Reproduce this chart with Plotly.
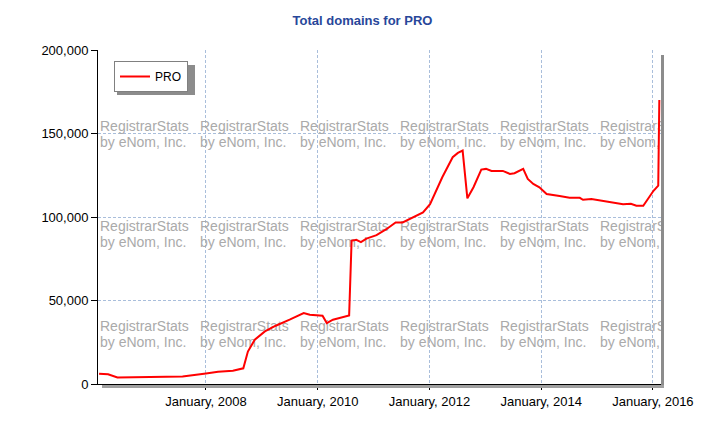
import plotly.graph_objects as go

# Total PRO domains
dates = [
    "2006-02-01", "2006-04-01", "2006-06-01", "2006-10-01", "2007-03-15", "2007-08-01",
    "2008-01-01", "2008-03-20", "2008-06-25", "2008-09-01", "2008-10-01", "2008-11-15",
    "2009-01-20", "2009-04-01", "2009-07-01", "2009-10-01", "2009-11-10", "2010-02-01",
    "2010-03-01", "2010-04-10", "2010-07-25", "2010-08-10", "2010-09-10", "2010-10-10",
    "2010-11-15", "2011-01-20", "2011-03-25", "2011-05-25", "2011-07-10", "2011-09-15",
    "2011-10-05", "2011-11-20", "2012-01-05", "2012-02-15", "2012-03-25", "2012-06-01",
    "2012-07-05", "2012-08-05", "2012-09-05", "2012-10-15", "2012-12-05", "2013-01-05",
    "2013-02-10", "2013-04-25", "2013-06-10", "2013-07-10", "2013-09-05", "2013-10-05",
    "2013-11-10", "2013-12-20", "2014-02-05", "2014-05-01", "2014-07-05", "2014-09-10",
    "2014-10-01", "2014-11-25", "2015-01-20", "2015-05-05", "2015-06-20", "2015-08-10",
    "2015-09-15", "2015-10-30", "2015-12-10", "2016-01-05", "2016-02-05", "2016-02-12",
]
domains = [
    6200, 5800, 3900, 4100, 4200, 4500,
    6300, 7300, 7900, 9400, 19400, 26500,
    31500, 34900, 38500, 42500, 41500, 40900,
    36500, 38500, 41100, 85700, 86300, 85000,
    87100, 89100, 92700, 96700, 96700, 99700,
    100200, 102700, 107700, 115700, 123800, 135800,
    138400, 139800, 111200, 117800, 128400, 128800,
    127600, 127600, 125800, 126200, 128800, 122800,
    119800, 117800, 113800, 112600, 111500, 111500,
    110300, 110800, 110000, 108800, 107700, 107900,
    106700, 106700, 112700, 115700, 118800, 170000,
]
tick_dates = ["2008-01-01", "2010-01-01", "2012-01-01", "2014-01-01", "2016-01-01"]
y_ticks = [0, 50000, 100000, 150000, 200000]

W, H = 725, 425
L, R, T, B = 98, 64, 50, 41
PW, PH = W - L - R, H - T - B

FONT = "Liberation Sans, Arial, sans-serif"
GRID = "#a9bedb"

fig = go.Figure()

# watermark, on a pixel-unit axis pair underneath the data
wm_x = []
wm_y = []
wm_t = []
for cx in [2, 102, 202, 302, 402, 502]:
    for top in [257, 157, 57]:
        wm_x += [cx, cx]
        wm_y += [top, top - 16]
        wm_t += ["RegistrarStats", "by eNom, Inc."]
fig.add_trace(go.Scatter(
    x=wm_x, y=wm_y, text=wm_t, mode="text", textposition="middle right",
    textfont=dict(family=FONT, size=14, color="#aaaaaa"),
    showlegend=False, hoverinfo="skip", cliponaxis=True,
    xaxis="x", yaxis="y",
))

fig.add_trace(go.Scatter(
    x=dates, y=domains, mode="lines", name="PRO",
    line=dict(color="#ff0000", width=2),
    xaxis="x2", yaxis="y2",
))

fig.update_layout(
    width=W, height=H,
    margin=dict(l=L, r=R, t=T, b=B),
    paper_bgcolor="white", plot_bgcolor="white",
    font=dict(family=FONT, size=13, color="black"),
    title=dict(
        text="<b>Total domains for PRO</b>",
        x=0.5, xref="container", xanchor="center",
        y=1 - 20 / H, yref="container", yanchor="middle",
        font=dict(family=FONT, size=13, color="#28479a"),
    ),
    xaxis=dict(range=[0, PW], visible=False, fixedrange=True),
    yaxis=dict(range=[0, PH], visible=False, fixedrange=True),
    xaxis2=dict(
        overlaying="x", anchor="y2", side="bottom",
        type="date", range=["2006-01-25", "2016-02-23"],
        tickvals=tick_dates, tickformat="%B, %Y",
        ticks="outside", ticklen=5, tickcolor="black",
        showline=True, linecolor="black", linewidth=1,
        showgrid=True, gridcolor=GRID, griddash="3px,2px", gridwidth=1,
        zeroline=False,
    ),
    yaxis2=dict(
        overlaying="y", anchor="x2", side="left",
        range=[0, 200000], tickvals=y_ticks, tickformat=",",
        ticks="outside", ticklen=6, tickcolor="black",
        showline=True, linecolor="black", linewidth=1,
        showgrid=True, gridcolor=GRID, griddash="3px,2px", gridwidth=1,
        zeroline=False,
    ),
    legend=dict(
        x=16 / PW, y=1 - 11 / PH, xanchor="left", yanchor="top",
        bgcolor="white", bordercolor="#808080", borderwidth=1,
        font=dict(family=FONT, size=12, color="black"),
    ),
    shapes=[
        # plot shadow
        dict(type="rect", xref="paper", yref="paper", layer="above",
             x0=1, x1=1 + 3 / PW, y0=-4 / PH, y1=1 - 5 / PH,
             fillcolor="#8c8c8c", line=dict(width=0)),
        dict(type="rect", xref="paper", yref="paper", layer="above",
             x0=4 / PW, x1=1 + 3 / PW, y0=-4 / PH, y1=-1 / PH,
             fillcolor="#a0a0a0", line=dict(width=0)),
        # legend shadow
        dict(type="rect", xref="paper", yref="paper", layer="below",
             x0=19 / PW, x1=97 / PW, y0=1 - 45 / PH, y1=1 - 15 / PH,
             fillcolor="#8c8c8c", line=dict(width=0)),
    ],
)

fig.write_html("out.html", config={"displayModeBar": False},
               post_script="document.body.style.margin='0';")
